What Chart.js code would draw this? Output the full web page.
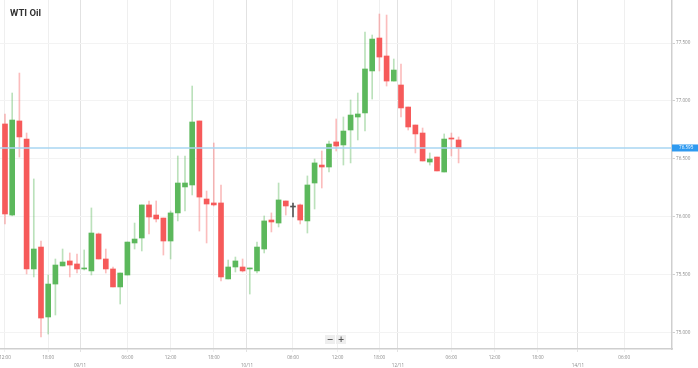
<!DOCTYPE html>
<html><head><meta charset="utf-8">
<script src="https://cdn.jsdelivr.net/npm/chart.js@4.4.1/dist/chart.umd.min.js"></script>
<style>
html,body{margin:0;padding:0;background:#fff;}
#wrap{position:relative;width:698px;height:368px;overflow:hidden;background:#fff;}
#title{position:absolute;left:10px;top:7px;font:bold 9.5px Roboto,'Liberation Sans',Arial,sans-serif;color:#333;}
#zoom{position:absolute;left:325px;top:335px;display:flex;gap:1px;}
#zoom span{display:block;width:10px;height:9px;background:#eeeeee;color:#555;font:bold 8px 'DejaVu Sans',Arial,sans-serif;line-height:9px;text-align:center;}
</style></head>
<body><div id="wrap"><canvas id="c" width="698" height="368"></canvas><div id="title">WTI Oil</div><div id="zoom"><span>−</span><span>+</span></div></div>
<script>
// hourly candles (slot index on the trading-time axis)
const opens  = [76.802,76.017,76.828,76.672,75.552,75.741,75.138,75.422,75.578,75.621,75.595,75.552,75.535,75.854,75.638,75.552,75.397,75.500,75.776,75.819,76.104,76.017,75.991,75.793,76.035,76.259,76.276,76.828,76.155,76.121,76.121,75.466,75.569,75.569,75.552,75.535,75.724,75.974,75.948,76.138,76.086,76.104,75.966,76.293,76.448,76.431,76.647,76.621,76.750,76.862,76.897,77.259,77.543,77.388,77.172,77.138,76.948,76.793,76.724,76.474,76.517,76.388,76.681,76.664];
const highs  = [76.888,77.069,77.241,76.724,76.328,75.793,75.500,75.638,75.724,75.690,75.681,75.716,76.078,75.862,75.724,75.569,75.517,75.784,75.948,76.104,76.138,76.138,75.991,76.052,76.526,76.526,77.129,76.828,76.224,76.638,76.276,75.629,75.655,75.638,75.560,75.784,76.009,76.035,76.293,76.138,76.121,76.112,76.354,76.500,76.569,76.655,76.845,76.862,77.009,77.069,77.595,77.569,77.750,77.741,77.362,77.319,76.948,76.793,76.767,76.552,76.517,76.716,76.724,76.690];
const lows   = [75.940,76.010,76.517,75.509,75.483,74.966,74.991,75.155,75.578,75.483,75.517,75.543,75.500,75.638,75.517,75.397,75.250,75.500,75.724,75.707,75.854,75.957,75.672,75.638,75.966,76.052,76.190,75.879,75.776,76.095,75.448,75.466,75.526,75.526,75.336,75.517,75.690,75.871,75.914,76.017,76.000,75.940,75.862,76.069,76.250,76.388,76.569,76.448,76.466,76.664,76.741,77.017,77.259,77.129,77.172,76.862,76.750,76.552,76.483,76.448,76.397,76.388,76.526,76.466];
const closes = [76.026,76.836,76.690,75.552,75.724,75.129,75.422,75.586,75.612,75.586,75.552,75.560,75.862,75.638,75.552,75.397,75.517,75.784,75.810,76.104,76.000,75.983,75.793,76.035,76.293,76.293,76.819,76.172,76.112,76.104,75.483,75.569,75.621,75.535,75.560,75.741,75.966,75.957,76.147,76.095,76.086,75.974,76.276,76.466,76.431,76.629,76.612,76.741,76.879,76.888,77.276,77.534,77.379,77.172,77.267,76.940,76.776,76.716,76.483,76.500,76.397,76.672,76.672,76.595];
const slots = opens.map((_, i) => i);

// axis ticks
const yTicks = [75.0, 75.5, 76.0, 76.5, 77.0, 77.5];
const xTickSlots  = [0, 6, 10.42, 17, 23, 29, 33.61, 40, 46.2, 52, 54.58, 62, 68, 74, 79.58, 86];
const xTickLabels = ['12:00','18:00','09/11','06:00','12:00','18:00','10/11','06:00','12:00','18:00','12/11','06:00','12:00','18:00','14/11','06:00'];
const dayLabels = ['09/11','10/11','12/11','14/11'];
const lastPrice = closes[closes.length - 1];

const GREEN = '#5cb85c', RED = '#f65a5a', GREY = '#555555';
const bodyColors = slots.map(i => closes[i] > opens[i] ? GREEN : closes[i] < opens[i] ? RED : GREY);
const wickColors = slots.map(i => closes[i] > opens[i] ? 'rgba(92,184,92,0.42)' : closes[i] < opens[i] ? 'rgba(246,90,90,0.4)' : GREY);

const tickFont = {family: "'Open Sans', 'DejaVu Sans', sans-serif", size: 4.6};

const priceLine = {
  id: 'priceLine',
  afterDraw(chart) {
    const {ctx, chartArea: a} = chart;
    const py = chart.scales.y.getPixelForValue(lastPrice);
    ctx.save();
    ctx.strokeStyle = '#a9d6f2';
    ctx.lineWidth = 1.6;
    ctx.beginPath(); ctx.moveTo(a.left, py); ctx.lineTo(a.right, py); ctx.stroke();
    ctx.fillStyle = '#2f9af0';
    ctx.fillRect(a.right, py - 3.5, chart.width - a.right, 7);
    ctx.fillStyle = '#ffffff';
    ctx.font = "4.6px 'Open Sans', 'DejaVu Sans', sans-serif";
    ctx.textBaseline = 'middle';
    ctx.textAlign = 'left';
    ctx.fillText(lastPrice.toFixed(3), a.right + 7, py);
    ctx.restore();
  }
};

new Chart(document.getElementById('c'), {
  type: 'bar',
  data: {
    datasets: [
      {label: 'body', data: slots.map(i => ({x: i, y: [opens[i], closes[i]]})),
       backgroundColor: bodyColors, barThickness: 5, minBarLength: 1, grouped: false, order: 0, borderWidth: 0},
      {label: 'wick', data: slots.map(i => ({x: i, y: [lows[i], highs[i]]})),
       backgroundColor: wickColors, barThickness: 1, grouped: false, order: 1, borderWidth: 0}
    ]
  },
  options: {
    responsive: false,
    animation: false,
    devicePixelRatio: 1,
    layout: {padding: 0, autoPadding: false},
    plugins: {legend: {display: false}, tooltip: {enabled: false}, title: {display: false}},
    scales: {
      x: {
        type: 'linear',
        offset: false,
        min: -0.694, max: 92.64,
        afterBuildTicks: s => { s.ticks = xTickSlots.map(v => ({value: v})); },
        afterFit: s => { s.height = 19; s.paddingLeft = 0; s.paddingRight = 0; },
        ticks: {
          autoSkip: false, maxRotation: 0, minRotation: 0, padding: 1,
          color: '#8a8a8a', font: Object.assign({lineHeight: 1.85}, tickFont),
          callback: (v, idx) => {
            const lab = xTickLabels[idx];
            return dayLabels.includes(lab) ? ['', lab] : lab;
          }
        },
        grid: {
          offset: false,
          color: c => (c.tick && dayLabels.includes(xTickLabels[xTickSlots.indexOf(c.tick.value)])) ? '#e2e2e2' : '#efefef',
          lineWidth: 1, tickLength: 3, drawTicks: true
        },
        border: {display: true, color: '#cfcfcf', width: 1.5}
      },
      y: {
        position: 'right',
        min: 74.862, max: 77.8707,
        afterBuildTicks: s => { s.ticks = yTicks.map(v => ({value: v})); },
        afterFit: s => { s.width = 26; s.paddingTop = 0; s.paddingBottom = 0; },
        ticks: {
          padding: 1, color: '#8a8a8a', font: tickFont,
          callback: v => Number(v).toFixed(3)
        },
        grid: {color: '#f3f3f3', lineWidth: 1, tickLength: 3, drawTicks: true, tickColor: '#cfcfcf'},
        border: {display: true, color: '#cfcfcf', width: 1.5}
      }
    }
  },
  plugins: [priceLine]
});
</script>
</body></html>
